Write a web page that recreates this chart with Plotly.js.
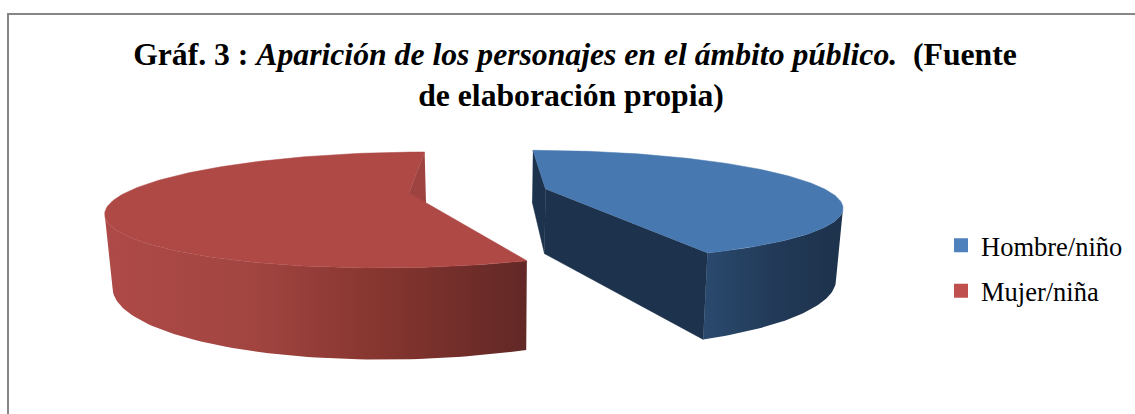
<!DOCTYPE html>
<html><head><meta charset="utf-8">
<script src="https://cdn.plot.ly/plotly-3.0.1.min.js"></script>
<style>html,body{margin:0;padding:0;background:#fff;overflow:hidden}#c{width:1135px;height:414px}</style>
</head><body><div id="c"></div>
<script>
const categories = ["Hombre/niño", "Mujer/niña"];
const values = [44, 56];

// projection of a tilted, exploded disc onto the plot
const P = {p: 0.293, xv: 495, xk: 0.98, yk: 1.342, dy: 0};
const G = [
  {x0: 490, cx: 545.5, cy: 189, a: 279, b: 50},
  {x0: 478, cx: 409, cy: 193, a: 284, b: 53}
];
function topPt(g, r, deg) {
  const t = deg * Math.PI / 180, u = r * Math.sin(t), v = -r * Math.cos(t), s = 1 / (1 - P.p * v);
  return [g.x0 + (g.a * u + g.cx - g.x0) * s, g.cy + g.b * v * s];
}
function low(pt) { return [P.xv + P.xk * (pt[0] - P.xv), P.yk * pt[1] + P.dy]; }
function arc(g, a, b) {
  const n = 160, o = [];
  for (let i = 0; i <= n; i++) o.push(topPt(g, 1, a + (b - a) * i / n));
  return o;
}
const total = values.reduce((s, v) => s + v, 0);
const endBlue = 360 * values[0] / total;

function poly(pts, color, grad) {
  const tr = {type: 'scatter', mode: 'lines', x: pts.map(p => p[0]), y: pts.map(p => p[1]), fill: 'toself',
    line: {width: 0.5, color: grad ? 'rgba(0,0,0,0)' : color}, fillcolor: color, hoverinfo: 'skip', showlegend: false};
  if (grad) { tr.fillgradient = {type: 'horizontal', colorscale: grad}; }
  return tr;
}
// outer wall runs from the front cut to the point of the rim that sticks out furthest sideways
function wall(g, from, to, sign) {
  const rim = arc(g, from, to);
  let best = 0;
  rim.forEach((p, i) => { if (sign * p[0] > sign * rim[best][0]) best = i; });
  const vis = rim.slice(0, best + 1);
  return vis.concat(vis.map(low).reverse());
}
const cB = topPt(G[0], 0, 0), cR = topPt(G[1], 0, 0);
const bS = topPt(G[0], 1, 0), bE = topPt(G[0], 1, endBlue);
const rE = topPt(G[1], 1, 360);

const traces = [];
// red: outer wall, back cut, top face
traces.push(poly(wall(G[1], endBlue, 360, -1), '#9c4340',
  [[0, '#AE4A47'], [0.35, '#A24541'], [0.65, '#86352F'], [1, '#622826']]));
traces.push(poly([rE, cR, low(cR), low(rE)], '#9E4340'));
traces.push(poly([cR].concat(arc(G[1], endBlue, 360)), '#AE4946'));
// blue: cuts, outer wall, top face
traces.push(poly([bS, cB, low(cB), low(bS)], '#1D324C'));
traces.push(poly([cB, bE, low(bE), low(cB)], '#1D324C'));
traces.push(poly(wall(G[0], endBlue, 0, 1), '#223a58',
  [[0, '#2A4A6E'], [0.5, '#223A58'], [1, '#1D324B']]));
traces.push(poly([cB].concat(arc(G[0], 0, endBlue)), '#4878B0'));
// legend entries
const swatch = ['#4F81BD', '#C0504D'];
categories.forEach((c, i) => traces.push({type: 'scatter', mode: 'markers', x: [null], y: [null], name: c,
  legendgroup: c, marker: {symbol: 'square', size: 14, color: swatch[i]}, hoverinfo: 'skip'}));

const layout = {
  width: 1135, height: 414, margin: {l: 0, r: 0, t: 0, b: 0},
  paper_bgcolor: '#fff', plot_bgcolor: '#fff',
  xaxis: {range: [0, 1135], visible: false, fixedrange: true},
  yaxis: {range: [414, 0], visible: false, fixedrange: true},
  font: {family: '"Liberation Serif", serif', color: '#000'},
  title: {text: '<b>Gráf. 3 : <i>Aparición de los personajes en el ámbito público.</i>  (Fuente<br>de elaboración propia)\u00A0</b>',
    font: {family: '"Liberation Serif", serif', size: 31.7, color: '#000'},
    x: 575 / 1135, xanchor: 'center', y: 1 - 65 / 414, yanchor: 'middle'},
  legend: {x: 941 / 1135, y: 1 - 268 / 414, xanchor: 'left', yanchor: 'middle', font: {size: 26.5, color: '#000'},
    bgcolor: 'rgba(0,0,0,0)', itemsizing: 'trace', traceorder: 'grouped', tracegroupgap: 8},
  shapes: [
    {type: 'line', xref: 'paper', yref: 'paper', x0: 7 / 1135, x1: 1, y0: 1 - 14 / 414, y1: 1 - 14 / 414, line: {color: '#868686', width: 2}},
    {type: 'line', xref: 'paper', yref: 'paper', x0: 8 / 1135, x1: 8 / 1135, y0: 0, y1: 1 - 14 / 414, line: {color: '#868686', width: 2}}
  ]
};
Plotly.newPlot('c', traces, layout, {displayModeBar: false, staticPlot: true});
</script></body></html>
